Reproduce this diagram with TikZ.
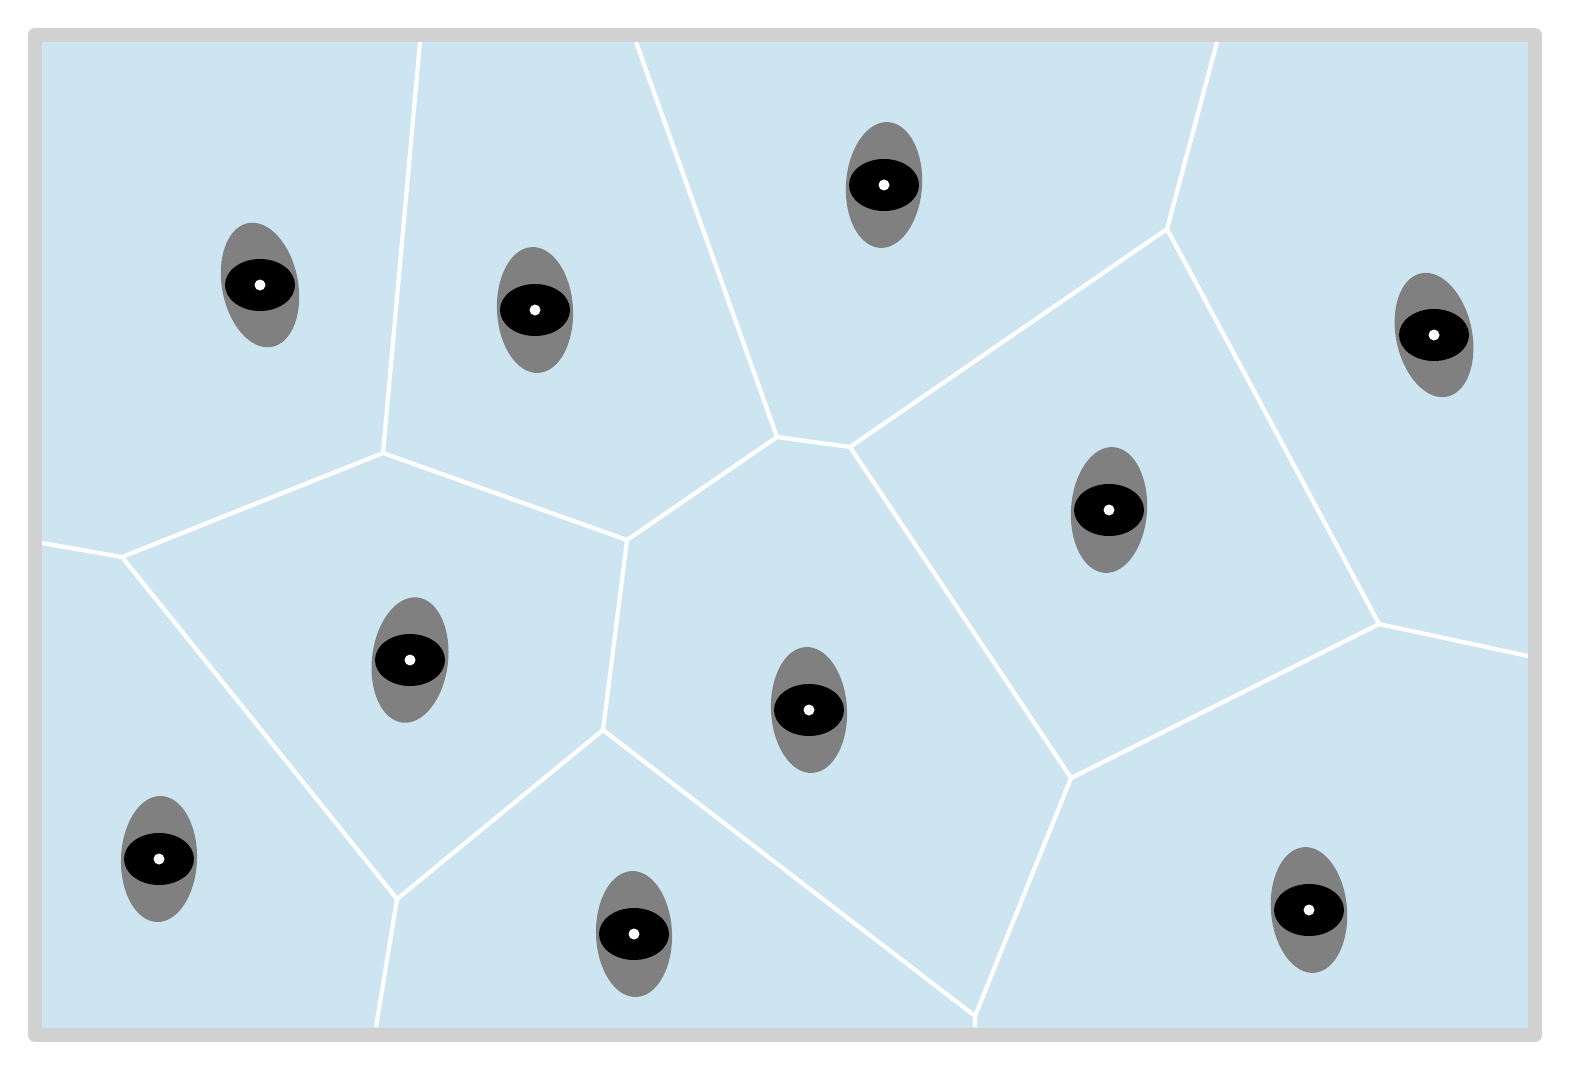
\documentclass[tikz,border=0pt]{standalone}
\usepackage{amsmath,amssymb}
\usepackage{xcolor}
\usepackage{tikz}
\definecolor{cellblue}{RGB}{205,229,241}
\definecolor{framegray}{RGB}{209,209,209}
\definecolor{halogray}{RGB}{128,128,128}

\begin{document}
\begin{tikzpicture}[x=0.01cm, y=-0.01cm,
  wall/.style={white, line width=1.2pt},
  halo/.style={fill=halogray},
  pupil/.style={fill=black},
  seed/.style={fill=white}]
  \useasboundingbox (0,0) rectangle (1570,1070);
  \fill[cellblue] (35,35) rectangle (1535,1035);
  % cell corners
  \coordinate (v1) at (383,453);  \coordinate (v2) at (122,557);
  \coordinate (v3) at (627,540);  \coordinate (v4) at (777,437);
  \coordinate (v5) at (850,447);  \coordinate (v6) at (1167,229);
  \coordinate (v7) at (1379,624); \coordinate (v8) at (1071,778);
  \coordinate (v9) at (603,730);  \coordinate (v10) at (397,899);
  \coordinate (v11) at (975,1016);
  \coordinate (b1) at (420,42);   \coordinate (b2) at (636,42);
  \coordinate (b3) at (1217,42);  \coordinate (b4) at (42,543);
  \coordinate (b5) at (1528,656); \coordinate (b6) at (376,1027);
  \coordinate (b7) at (975,1027);
  \draw[wall] (b1) -- (v1) -- (v2) -- (b4);
  \draw[wall] (v1) -- (v3) -- (v4) -- (v5) -- (v6) -- (b3);
  \draw[wall] (b2) -- (v4);
  \draw[wall] (v6) -- (v7) -- (b5);
  \draw[wall] (v5) -- (v8) -- (v7);
  \draw[wall] (v8) -- (v11) -- (b7);
  \draw[wall] (v3) -- (v9) -- (v10) -- (v2);
  \draw[wall] (v9) -- (v11);
  \draw[wall] (v10) -- (b6);
  % sites
  \coordinate (s1) at (260,285);  \coordinate (s2) at (535,310);
  \coordinate (s3) at (884,185);  \coordinate (s4) at (1434,335);
  \coordinate (s5) at (1109,510); \coordinate (s6) at (410,660);
  \coordinate (s7) at (809,710);  \coordinate (s8) at (159,859);
  \coordinate (s9) at (634,934);  \coordinate (s10) at (1309,910);
  \foreach \s/\r in {s1/11, s2/3, s3/-4, s4/12, s5/-4, s6/-7, s7/3, s8/-2, s9/2, s10/5} {
    \fill[halo, rotate around={\r:(\s)}] (\s) ellipse [x radius=38, y radius=63];
    \fill[pupil] (\s) ellipse [x radius=35, y radius=26];
    \fill[seed] (\s) circle [radius=5.5];
  }
  \draw[framegray, line width=0.14cm, line join=round] (35,35) rectangle (1535,1035);
\end{tikzpicture}
\end{document}
